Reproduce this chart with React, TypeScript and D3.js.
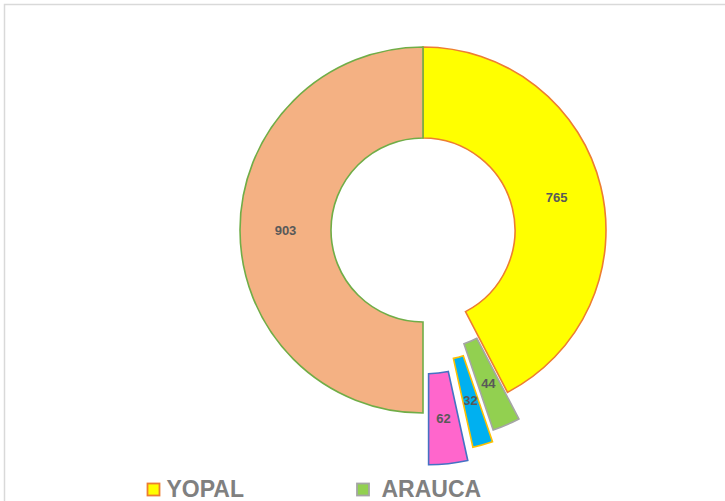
import React from "react";
import * as d3 from "d3";

const categories = ["YOPAL", "ARAUCA", "C3", "C4", "C5"];
const values = [765, 44, 32, 62, 903];
const fills = ["#FFFF00", "#92D050", "#00B0F0", "#FF66CC", "#F4B183"];
const strokes = ["#ED7D31", "#A5A5A5", "#FFC000", "#4472C4", "#70AD47"];
const explode = [0, 29, 40, 52, 0];
const legendItems = [0, 1];

const W = 725;
const H = 501;
const cx = 423;
const cy = 230;
const outerR = 183;
const innerR = 92;

export default function App() {
  const pie = d3.pie<number>().sort(null).value((d) => d);
  const arcs = pie(values);
  const arc = d3.arc<d3.PieArcDatum<number>>().innerRadius(innerR).outerRadius(outerR);
  const legendX = [146.5, 356];

  return (
    <svg
      width={W}
      height={H}
      style={{ position: "absolute", left: 0, top: 0, fontFamily: "Liberation Sans, Arial, sans-serif" }}
    >
      <rect x={0} y={0} width={W} height={H} fill="#fff" />
      <rect x={4.5} y={4.5} width={900} height={700} fill="none" stroke="#D9D9D9" strokeWidth={1.5} />
      <g transform={`translate(${cx},${cy})`}>
        {arcs.map((a, i) => {
          const mid = (a.startAngle + a.endAngle) / 2;
          const dx = Math.sin(mid) * explode[i];
          const dy = -Math.cos(mid) * explode[i];
          const [lx, ly] = arc.centroid(a);
          return (
            <g key={i} transform={`translate(${dx},${dy})`}>
              <path d={arc(a) || ""} fill={fills[i]} stroke={strokes[i]} strokeWidth={1.6} strokeLinejoin="miter" />
              <text
                x={lx}
                y={ly}
                textAnchor="middle"
                dominantBaseline="central"
                fontSize={13}
                fontWeight="bold"
                fill="#595959"
              >
                {values[i]}
              </text>
            </g>
          );
        })}
      </g>
      {legendItems.map((idx, k) => (
        <g key={idx}>
          <rect
            x={legendX[k] + 1}
            y={483.5}
            width={12}
            height={12}
            fill={fills[idx]}
            stroke={strokes[idx]}
            strokeWidth={1.8}
          />
          <text
            x={legendX[k] + (k === 0 ? 20 : 25.5)}
            y={497}
            fontSize={23}
            fontWeight="bold"
            fill="#808080"
          >
            {categories[idx]}
          </text>
        </g>
      ))}
    </svg>
  );
}
